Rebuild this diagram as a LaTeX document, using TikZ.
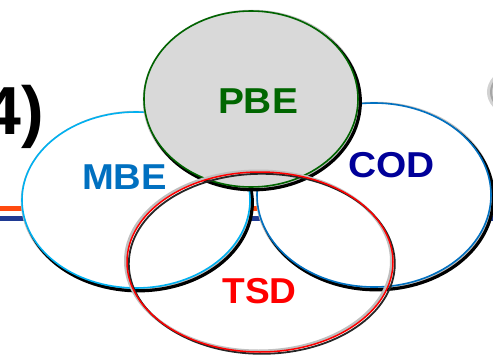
\documentclass[tikz,border=0pt]{standalone}
\usepackage{fontspec}
\setmainfont{Liberation Sans}
\definecolor{pbefill}{HTML}{D9D9D9}
\definecolor{pbeline}{HTML}{006400}
\definecolor{pbetext}{HTML}{006600}
\definecolor{mbeline}{HTML}{00B0F0}
\definecolor{mbetext}{HTML}{0070C0}
\definecolor{codline}{HTML}{0070C0}
\definecolor{codtext}{HTML}{000099}
\definecolor{orangeline}{HTML}{FF4A10}
\definecolor{blueline}{HTML}{1F3A93}
\newcommand\shadowedellipse[5]{%
  \draw[gray!50, line width=4.5] ([shift={(1,1)}]#1) ellipse [x radius=#2, y radius=#3];
  \draw[black, line width=3.2] ([shift={(2.3,2.8)}]#1) ellipse [x radius=#2, y radius=#3];
  \filldraw[fill=#4, draw=#5, line width=1.6] (#1) ellipse [x radius=#2, y radius=#3];
}
\tikzset{
  lbl/.style={anchor=base, inner sep=0pt, font=\fontsize{36}{36}\selectfont\bfseries},
}
\begin{document}
\begin{tikzpicture}[x=1pt,y=-1pt]
\useasboundingbox (0,0) rectangle (493,356);
\clip (0,0) rectangle (493,356);
% background lines
\draw[orangeline, line width=5] (0,208.5) -- (493,208.5);
\draw[blueline, line width=5] (0,218) -- (493,218);
% partial shape at right edge
\draw[gray!35, line width=6] (560,92) ellipse [x radius=70, y radius=34];
\draw[gray!70, line width=2] (561,92) ellipse [x radius=70, y radius=34];
% label 4)
\node[anchor=base west, inner sep=0pt, font=\fontsize{68}{68}\selectfont\bfseries] (num) at (-17,134) {4)};
% ellipses
\coordinate (mbe) at (136,200);
\coordinate (cod) at (374,195);
\coordinate (pbe) at (251,99);
\coordinate (tsd) at (260,262);
\shadowedellipse{mbe}{114}{88}{white}{mbeline}
\shadowedellipse{cod}{117}{92}{white}{codline}
\shadowedellipse{pbe}{107}{88}{pbefill}{pbeline}
\draw[gray!50, line width=3] ([shift={(-1.5,-1)}]tsd) ellipse [x radius=133, y radius=90];
\draw[black!85, line width=1.8] ([shift={(1.8,1.8)}]tsd) ellipse [x radius=133, y radius=90];
\draw[red, line width=1.5] (tsd) ellipse [x radius=133, y radius=90];
% labels
\node[lbl, text=pbetext] (tpbe) at (258,113) {\scalebox{1.08}[1]{PBE}};
\node[lbl, text=mbetext] (tmbe) at (124.5,189) {\scalebox{1.06}[1]{MBE}};
\node[lbl, text=codtext] (tcod) at (391.5,177) {\scalebox{1.08}[1]{COD}};
\node[lbl, text=red] (ttsd) at (259.5,303) {\scalebox{1.03}[1]{TSD}};
\end{tikzpicture}
\end{document}
